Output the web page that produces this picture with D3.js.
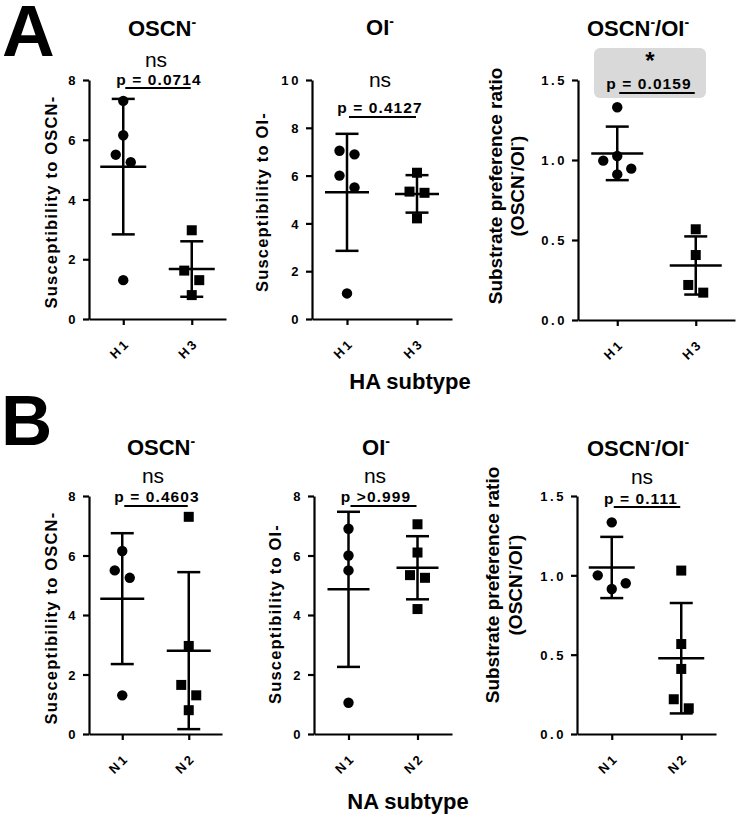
<!DOCTYPE html>
<html><head><meta charset="utf-8">
<script src="https://cdn.jsdelivr.net/npm/d3@7"></script>
<style>
body{margin:0;background:#fff}
svg{display:block}
text{font-family:"Liberation Sans",Arial,Helvetica,sans-serif;fill:#000}
</style>
</head><body>
<svg id="chart" width="736" height="815"></svg>
<script>
// ---------- data ----------
const catA = ["H1", "H3"];
const catB = ["N1", "N2"];

const a_oscn_H1 = [7.3, 6.15, 5.5, 5.25, 1.3];
const a_oscn_H3 = [2.97, 1.62, 1.3, 0.8];
const a_oi_H1 = [7.04, 6.89, 6.0, 5.5, 1.07];
const a_oi_H3 = [6.12, 5.33, 5.28, 4.21];
const a_ratio_H1 = [1.33, 1.025, 0.996, 0.946, 0.91];
const a_ratio_H3 = [0.567, 0.406, 0.219, 0.171];

const b_oscn_N1 = [6.15, 5.5, 5.25, 1.3];
const b_oscn_N2 = [7.3, 2.96, 1.65, 1.3, 0.8];
const b_oi_N1 = [6.9, 6.0, 5.5, 1.05];
const b_oi_N2 = [7.05, 6.1, 5.34, 5.25, 4.2];
const b_ratio_N1 = [1.334, 1.0, 0.95, 0.914];
const b_ratio_N2 = [1.03, 0.567, 0.41, 0.219, 0.162];

const titles = ["OSCN⁻", "OI⁻", "OSCN⁻/OI⁻", "OSCN⁻", "OI⁻", "OSCN⁻/OI⁻"];
const sigLabels = ["ns", "ns", "*", "ns", "ns", "ns"];
const pLabels = ["p = 0.0714", "p = 0.4127", "p = 0.0159", "p = 0.4603", "p >0.999", "p = 0.111"];
const yLabels = [
  ["Susceptibility to OSCN-"], ["Susceptibility to OI-"], ["Substrate preference ratio", "(OSCN⁻/OI⁻)"],
  ["Susceptibility to OSCN-"], ["Susceptibility to OI-"], ["Substrate preference ratio", "(OSCN⁻/OI⁻)"]
];
const yTicks8 = [0, 2, 4, 6, 8];
const yTicks10 = [0, 2, 4, 6, 8, 10];
const yTicksRatio = [0, 0.5, 1.0, 1.5];
const xTitles = ["HA subtype", "NA subtype"];
const panelLetters = ["A", "B"];

// ---------- layout ----------
const FONT = '"Liberation Sans",Arial,Helvetica,sans-serif';
const panels = [
  {cats:catA, groups:[a_oscn_H1,a_oscn_H3], ymax:8, ticks:yTicks8, fmt:d3.format("d"),
   left:89, right:226, top:80, bottom:319, tx:162, ty:36, sx:156, sy:67, px:159, py:85, barY:88,
   ylx:[57], yly:202, meanHalf:23},
  {cats:catA, groups:[a_oi_H1,a_oi_H3], ymax:10, ticks:yTicks10, fmt:d3.format("d"),
   left:312, right:452, top:80, bottom:319, tx:380, ty:35, sx:380, sy:87, px:380, py:113, barY:117,
   ylx:[268], yly:202, meanHalf:22},
  {cats:catA, groups:[a_ratio_H1,a_ratio_H3], ymax:1.5, ticks:yTicksRatio, fmt:d3.format(".1f"),
   left:578, right:735, top:80, bottom:320, tx:638, ty:36, sx:650, sy:69, px:649, py:89, barY:93,
   box:{x:594,y:48,w:112,h:50}, ylx:[502,524], yly:186, meanHalf:26},
  {cats:catB, groups:[b_oscn_N1,b_oscn_N2], ymax:8, ticks:yTicks8, fmt:d3.format("d"),
   left:89, right:222, top:496, bottom:734, tx:161, ty:455, sx:153, sy:483, px:157, py:502, barY:506,
   ylx:[57], yly:618, meanHalf:22},
  {cats:catB, groups:[b_oi_N1,b_oi_N2], ymax:8, ticks:yTicks8, fmt:d3.format("d"),
   left:314, right:452, top:496, bottom:734, tx:376, ty:455, sx:375, sy:483, px:376, py:502, barY:506,
   ylx:[281], yly:614, meanHalf:21},
  {cats:catB, groups:[b_ratio_N1,b_ratio_N2], ymax:1.5, ticks:yTicksRatio, fmt:d3.format(".1f"),
   left:577, right:716, top:496, bottom:734, tx:638, ty:456, sx:642, sy:484, px:641, py:504, barY:507,
   ylx:[499,522], yly:585, meanHalf:23}
];

const svg = d3.select("#chart");

// rich text with superscript minus
function rich(t, str, fs) {
  const shift = Math.round(fs * 0.42);
  const parts = str.split("⁻");
  let raised = false;
  parts.forEach((p, i) => {
    if (p) {
      t.append("tspan").attr("dy", raised ? shift : 0).text(p);
      raised = false;
    }
    if (i < parts.length - 1) {
      t.append("tspan").attr("dy", raised ? 0 : -shift).attr("font-size", Math.round(fs * 0.62)).text("-");
      raised = true;
    }
  });
}

// horizontal spreading of close points
function spread(vals, y) {
  const idx = vals.map((v, i) => i).sort((a, b) => vals[b] - vals[a]);
  const off = vals.map(() => 0);
  const clusters = [];
  let cur = [idx[0]];
  for (let k = 1; k < idx.length; k++) {
    if (y(vals[idx[k]]) - y(vals[idx[k - 1]]) < 13) cur.push(idx[k]);
    else { clusters.push(cur); cur = [idx[k]]; }
  }
  clusters.push(cur);
  const patterns = {1:[0], 2:[-7.5, 7.5], 3:[-14, 14, 0], 4:[0, -14, 14, 0]};
  clusters.forEach(c => {
    const p = patterns[c.length] || c.map((_, j) => (j % 2 ? 1 : -1) * 7.5);
    c.forEach((i, j) => off[i] = p[j]);
  });
  return off;
}

panels.forEach((P, pi) => {
  const g = svg.append("g");
  const x = d3.scalePoint().domain(P.cats).range([P.left, P.right]).padding(0.5);
  const y = d3.scaleLinear().domain([0, P.ymax]).range([P.bottom, P.top]);

  // gray significance box
  if (P.box) {
    g.append("rect").attr("x", P.box.x).attr("y", P.box.y).attr("width", P.box.w).attr("height", P.box.h)
      .attr("rx", 6).attr("fill", "#d9d9d9");
  }

  // axes
  const yAxis = g.append("g").attr("transform", `translate(${P.left},0)`)
    .call(d3.axisLeft(y).tickValues(P.ticks).tickFormat(P.fmt).tickSize(6).tickSizeOuter(0).tickPadding(5));
  const xAxis = g.append("g").attr("transform", `translate(0,${P.bottom})`)
    .call(d3.axisBottom(x).tickSize(6).tickSizeOuter(0));
  [yAxis, xAxis].forEach(a => {
    a.select(".domain").attr("stroke", "#000").attr("stroke-width", 2.2);
    a.selectAll(".tick line").attr("stroke", "#000").attr("stroke-width", 2.2);
    a.selectAll(".tick text").attr("font-family", FONT).attr("font-size", 13).attr("font-weight", "bold")
      .attr("letter-spacing", "2.6px").attr("fill", "#000");
  });
  yAxis.selectAll(".tick text").attr("dy", "0.36em");
  xAxis.selectAll(".tick text")
    .attr("x", 0).attr("y", 0).attr("dy", 0)
    .attr("text-anchor", "end")
    .attr("transform", "translate(7,25) rotate(-45)");

  // error bars + mean
  P.groups.forEach((vals, gi) => {
    const cx = x(P.cats[gi]);
    const m = d3.mean(vals), s = d3.deviation(vals);
    const capHalf = 11.5;
    g.append("line").attr("x1", cx).attr("x2", cx).attr("y1", y(m + s)).attr("y2", y(m - s))
      .attr("stroke", "#000").attr("stroke-width", 2.5);
    g.append("line").attr("x1", cx - capHalf).attr("x2", cx + capHalf).attr("y1", y(m + s)).attr("y2", y(m + s))
      .attr("stroke", "#000").attr("stroke-width", 2.5);
    g.append("line").attr("x1", cx - capHalf).attr("x2", cx + capHalf).attr("y1", y(m - s)).attr("y2", y(m - s))
      .attr("stroke", "#000").attr("stroke-width", 2.5);
    g.append("line").attr("x1", cx - P.meanHalf).attr("x2", cx + P.meanHalf).attr("y1", y(m)).attr("y2", y(m))
      .attr("stroke", "#000").attr("stroke-width", 2.5);

    const off = spread(vals, y);
    if (gi === 0) {
      g.selectAll(null).data(vals).enter().append("circle")
        .attr("cx", (d, i) => cx + off[i]).attr("cy", d => y(d)).attr("r", 5.2).attr("fill", "#000");
    } else {
      const sz = 10;
      g.selectAll(null).data(vals).enter().append("rect")
        .attr("x", (d, i) => cx + off[i] - sz / 2).attr("y", d => y(d) - sz / 2)
        .attr("width", sz).attr("height", sz).attr("fill", "#000");
    }
  });

  // significance annotation
  const x1 = x(P.cats[0]) + 2, x2 = x(P.cats[1]) - 1;
  g.append("line").attr("x1", x1).attr("x2", x2).attr("y1", P.barY).attr("y2", P.barY)
    .attr("stroke", "#000").attr("stroke-width", 2.2);
  g.append("text").attr("x", P.px).attr("y", P.py).attr("text-anchor", "middle")
    .attr("font-size", 15.5).attr("font-weight", "bold").attr("letter-spacing", "1.1px").text(pLabels[pi]);
  if (sigLabels[pi] === "*") {
    g.append("text").attr("x", P.sx).attr("y", P.sy).attr("text-anchor", "middle")
      .attr("font-size", 24).attr("font-weight", "bold").text(sigLabels[pi]);
  } else {
    g.append("text").attr("x", P.sx).attr("y", P.sy).attr("text-anchor", "middle")
      .attr("font-size", 21).text(sigLabels[pi]);
  }

  // title
  const tt = g.append("text").attr("x", P.tx).attr("y", P.ty).attr("text-anchor", "middle")
    .attr("font-size", 22).attr("font-weight", "bold");
  rich(tt, titles[pi], 22);

  // y label
  const lab = yLabels[pi];
  lab.forEach((line, li) => {
    const isRatio = lab.length > 1;
    const fs = isRatio ? 19 : 16.5;
    const t = g.append("text")
      .attr("transform", `translate(${P.ylx[li]},${P.yly}) rotate(-90)`)
      .attr("text-anchor", "middle").attr("dy", "0.36em")
      .attr("font-size", fs).attr("font-weight", "bold")
      .attr("letter-spacing", isRatio ? "0px" : "1.2px");
    rich(t, line, fs);
  });
});

// row x-axis titles
svg.append("text").attr("x", 410).attr("y", 389).attr("text-anchor", "middle")
  .attr("font-size", 22).attr("font-weight", "bold").text(xTitles[0]);
svg.append("text").attr("x", 408).attr("y", 809).attr("text-anchor", "middle")
  .attr("font-size", 22).attr("font-weight", "bold").text(xTitles[1]);

// panel letters
svg.append("text").attr("x", 2).attr("y", 56).attr("font-size", 73).attr("font-weight", "bold").text(panelLetters[0]);
svg.append("text").attr("x", 1).attr("y", 445).attr("font-size", 71).attr("font-weight", "bold").text(panelLetters[1]);
</script>
</body></html>
